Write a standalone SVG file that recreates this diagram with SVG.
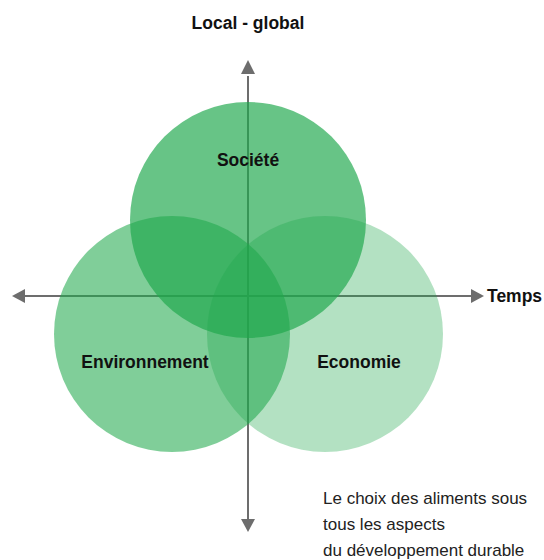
<svg xmlns="http://www.w3.org/2000/svg" width="544" height="560" viewBox="0 0 544 560">
<defs>
<style>
.axis{stroke:#6d6d6d;stroke-width:2;fill:none}
.head{fill:#6d6d6d}
.c{fill:#1fa84c}
.lbl{font-family:"Liberation Sans",Arial,sans-serif;font-weight:bold;font-size:17.5px;fill:#111}
.note{font-family:"Liberation Sans",Arial,sans-serif;font-size:17px;fill:#222}
</style>
</defs>
<rect width="544" height="560" fill="#fff"/>
<g id="axes">
<line class="axis" x1="248" y1="76" x2="248" y2="520"/>
<polygon class="head" points="248,60 241,74 255,74"/>
<polygon class="head" points="248,532 241,519 255,519"/>
<line class="axis" x1="24" y1="296" x2="474" y2="296"/>
<polygon class="head" points="12,296 25,289 25,303"/>
<polygon class="head" points="484,296 471,289 471,303"/>
</g>
<g id="societe"><circle class="c" cx="248" cy="220" r="118" fill-opacity="0.68"/></g>
<g id="environnement"><circle class="c" cx="172" cy="334" r="118" fill-opacity="0.57"/></g>
<g id="economie"><circle class="c" cx="325" cy="334" r="118" fill-opacity="0.34"/></g>
<g id="labels">
<text class="lbl" x="248" y="29" text-anchor="middle">Local - global</text>
<text class="lbl" x="487" y="302">Temps</text>
<text class="lbl" x="248" y="166" text-anchor="middle">Société</text>
<text class="lbl" x="145" y="368" text-anchor="middle">Environnement</text>
<text class="lbl" x="359" y="368" text-anchor="middle">Economie</text>
</g>
<g id="note">
<text class="note" x="323" y="504">Le choix des aliments sous</text>
<text class="note" x="323" y="530">tous les aspects</text>
<text class="note" x="323" y="556">du développement durable</text>
</g>
</svg>
